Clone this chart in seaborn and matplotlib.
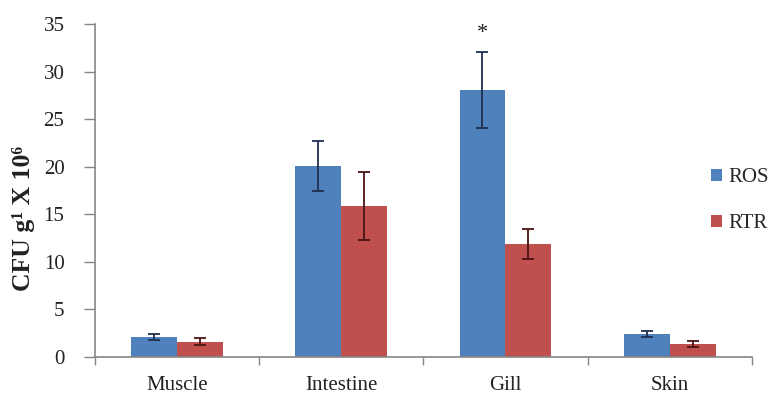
import matplotlib
matplotlib.use("Agg")
import matplotlib.pyplot as plt
import seaborn as sns
import pandas as pd
import numpy as np
from matplotlib.patches import Patch

categories = ["Muscle", "Intestine", "Gill", "Skin"]
series = ["ROS", "RTR"]
ros_values = [2.1, 20.1, 28.1, 2.4]
ros_err = [0.3, 2.6, 4.0, 0.35]
rtr_values = [1.6, 15.9, 11.9, 1.4]
rtr_err = [0.35, 3.6, 1.6, 0.3]
y_ticks = [0, 5, 10, 15, 20, 25, 30, 35]
colors = ["#4F81BD", "#C0504D"]
err_colors = ["#1F2F4F", "#4A1412"]

sns.set_theme(style="white")
plt.rcParams['font.family'] = ['Liberation Serif', 'DejaVu Serif']

df = pd.DataFrame({
    "cat": categories * 2,
    "series": ["ROS"] * 4 + ["RTR"] * 4,
    "val": ros_values + rtr_values,
    "err": ros_err + rtr_err,
})

fig = plt.figure(figsize=(7.8, 4.08), dpi=100)
ax = fig.add_axes([0.1218, 0.125, 0.842, 0.816])
sns.barplot(data=df, x="cat", y="val", hue="series", order=categories,
            hue_order=series, palette=colors, width=0.56, saturation=1,
            errorbar=None, ax=ax, legend=False, linewidth=0, edgecolor="none")

# error bars using bar geometry
for i, s in enumerate(series):
    cont = ax.containers[i]
    sub = df[df.series == s].set_index("cat").loc[categories]
    for patch, v, e in zip(cont.patches, sub["val"], sub["err"]):
        xc = patch.get_x() + patch.get_width() / 2
        ax.errorbar(xc, v, yerr=e, fmt="none", ecolor=err_colors[i],
                    elinewidth=1.3, capsize=4.6, capthick=1.3, zorder=5)

# significance star over Gill ROS
gill_patch = ax.containers[0].patches[2]
ax.text(gill_patch.get_x() + gill_patch.get_width() / 2, 33.0, "*",
        ha="center", va="bottom", fontsize=16, color="#222222")

ax.set_ylim(0, 35)
ax.set_xlim(-0.5, 3.5)
ax.set_yticks(y_ticks)
ax.set_yticklabels([str(t) for t in y_ticks], fontsize=15, color="#222222")
ax.set_xticks(range(len(categories)))
ax.set_xticklabels(categories, fontsize=15, color="#222222")
ax.tick_params(axis="x", length=0, pad=14)
ax.tick_params(axis="y", length=8, width=1, color="#868686", direction="out", pad=14, left=True)
# minor ticks at category boundaries
ax.set_xticks(np.arange(-0.5, 4.0, 1.0), minor=True)
ax.tick_params(axis="x", which="minor", length=6, width=1, color="#868686", direction="out", bottom=True)

ax.set_xlabel("")
ax.set_ylabel("CFU g¹ X 10⁶", fontsize=18.5, fontweight="bold", color="#222222")
ax.yaxis.set_label_coords(-0.091, 0.416)

for side in ["top", "right"]:
    ax.spines[side].set_visible(False)
for side in ["left", "bottom"]:
    ax.spines[side].set_color("#868686")
    ax.spines[side].set_linewidth(1.2)

handles = [Patch(facecolor=c, edgecolor="none") for c in colors]
fig.legend(handles, series, loc="center left", bbox_to_anchor=(0.911, 0.508),
           frameon=False, fontsize=15, handlelength=0.55, handleheight=0.55,
           handletextpad=0.3, labelspacing=1.3, borderaxespad=0, borderpad=0)

fig.savefig("out.png", dpi=100)
